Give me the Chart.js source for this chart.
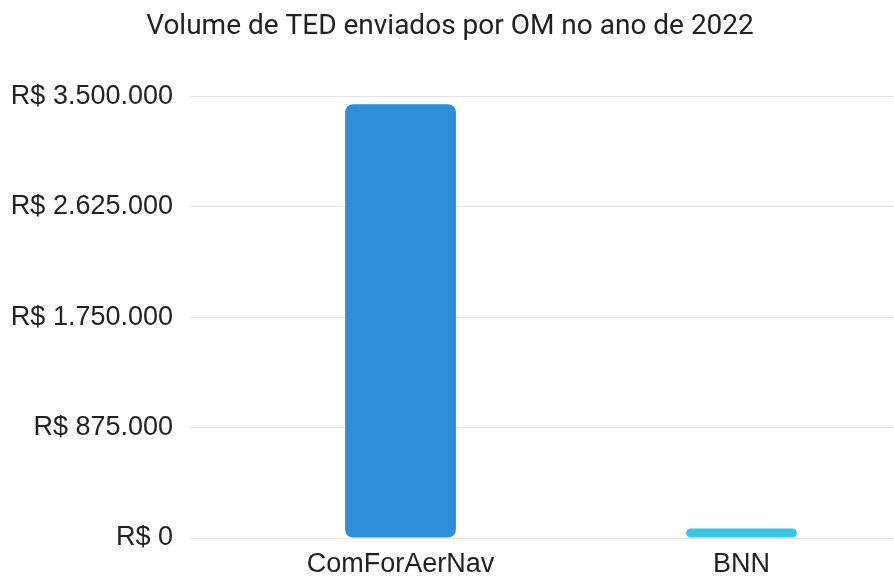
<!DOCTYPE html>
<html>
<head>
<meta charset="utf-8">
<script src="https://cdn.jsdelivr.net/npm/chart.js@4/dist/chart.umd.min.js"></script>
<style>
  html, body { margin: 0; padding: 0; background: #fff; overflow: hidden; }
  #wrap { width: 912px; height: 579px; }
</style>
</head>
<body>
<div id="wrap"><canvas id="chart"></canvas></div>
<script>
const categories = ["ComForAerNav", "BNN"];
const tedValues = [3440000, 75000];
const barColors = ["#2e8fd6", "#3ec4e8"];
const tickValues = [0, 875000, 1750000, 2625000, 3500000];

// formato brasileiro: R$ 1.750.000
function formatReal(v) {
  return "R$ " + v.toString().replace(/\B(?=(\d{3})+(?!\d))/g, ".");
}

new Chart(document.getElementById("chart"), {
  type: "bar",
  data: {
    labels: categories,
    datasets: [{
      data: tedValues,
      backgroundColor: barColors,
      borderRadius: 8,
      borderSkipped: false,
      categoryPercentage: 1,
      barPercentage: 0.325
    }]
  },
  options: {
    responsive: true,
    maintainAspectRatio: false,
    animation: false,
    // esquerda negativa so pra centralizar o titulo como no original
    layout: { padding: { left: -12, right: 0, top: 0, bottom: 0 } },
    plugins: {
      legend: { display: false },
      tooltip: { enabled: false },
      title: {
        display: true,
        text: "Volume de TED enviados por OM no ano de 2022",
        color: "#222",
        font: { family: "Roboto", size: 28, weight: "normal" },
        padding: { top: 10, bottom: 53 }
      }
    },
    scales: {
      x: {
        grid: { display: false },
        border: { display: false },
        afterFit: (axis) => { axis.height = 41; },
        ticks: {
          color: "#222",
          font: { family: "Liberation Sans", size: 27 },
          padding: 2
        }
      },
      y: {
        min: 0,
        max: 3500000,
        afterBuildTicks: (axis) => {
          axis.ticks = tickValues.map((v) => ({ value: v }));
        },
        afterFit: (axis) => { axis.width = 242; },
        grid: { color: "#e4e4e4", tickLength: 40, lineWidth: 1 },
        border: { display: false },
        ticks: {
          color: "#222",
          font: { family: "Liberation Sans", size: 27 },
          padding: 17,
          callback: (v) => formatReal(v)
        }
      }
    }
  }
});
</script>
</body>
</html>
